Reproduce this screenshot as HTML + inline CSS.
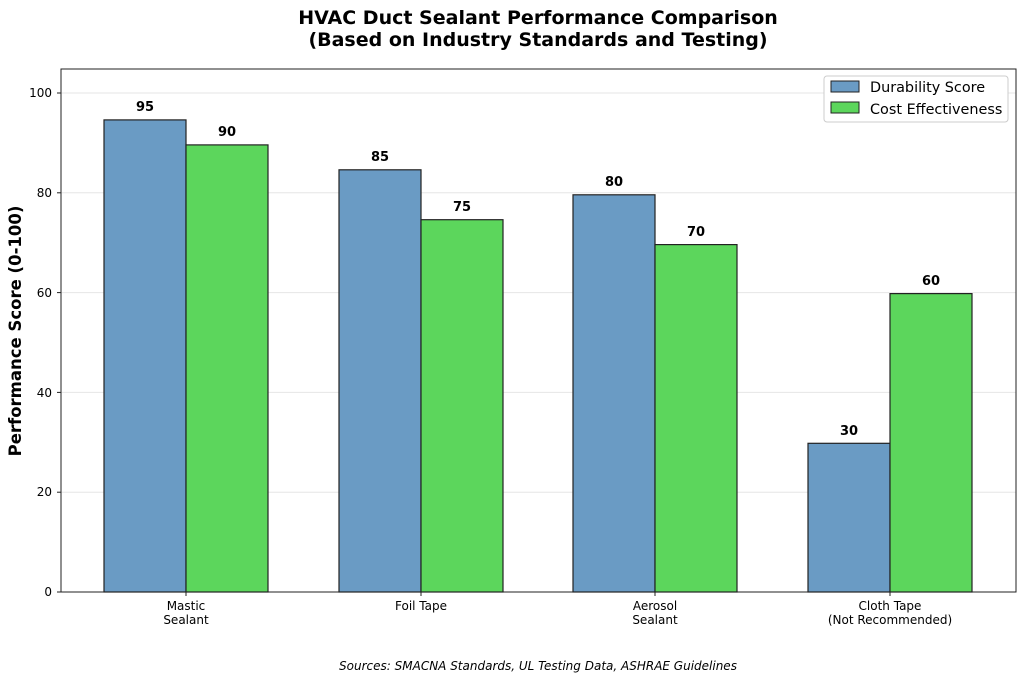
<!DOCTYPE html>
<html><head><meta charset="utf-8"><style>
body{margin:0;background:#fff;}
svg text{font-family:"DejaVu Sans","Liberation Sans",sans-serif;}
</style></head><body>
<svg width="1024" height="682" xmlns="http://www.w3.org/2000/svg">
<text x="538" y="24" text-anchor="middle" font-size="19" font-weight="bold">HVAC Duct Sealant Performance Comparison</text>
<text x="538" y="46" text-anchor="middle" font-size="19" font-weight="bold">(Based on Industry Standards and Testing)</text>
<g stroke="#e6e6e6" stroke-width="1">
<line x1="61" x2="1016" y1="492.2" y2="492.2"/>
<line x1="61" x2="1016" y1="392.4" y2="392.4"/>
<line x1="61" x2="1016" y1="292.6" y2="292.6"/>
<line x1="61" x2="1016" y1="192.8" y2="192.8"/>
<line x1="61" x2="1016" y1="93" y2="93"/>
</g>
<g stroke="#222" stroke-width="1.2">
<rect x="104" y="119.9" width="82" height="472.1" fill="#6a9bc4"/>
<rect x="186" y="144.9" width="82" height="447.1" fill="#5cd65c"/>
<rect x="339" y="169.8" width="82" height="422.2" fill="#6a9bc4"/>
<rect x="421" y="219.7" width="82" height="372.3" fill="#5cd65c"/>
<rect x="573" y="194.8" width="82" height="397.2" fill="#6a9bc4"/>
<rect x="655" y="244.6" width="82" height="347.4" fill="#5cd65c"/>
<rect x="808" y="443.3" width="82" height="148.7" fill="#6a9bc4"/>
<rect x="890" y="293.6" width="82" height="298.4" fill="#5cd65c"/>
</g>
<g font-size="13" font-weight="bold" text-anchor="middle">
<text x="145" y="111">95</text><text x="227" y="136">90</text>
<text x="380" y="161">85</text><text x="462" y="211">75</text>
<text x="614" y="186">80</text><text x="696" y="236">70</text>
<text x="849" y="435">30</text><text x="931" y="285">60</text>
</g>
<rect x="61" y="69" width="955" height="523" fill="none" stroke="#222" stroke-width="1"/>
<g font-size="12" text-anchor="end">
<text x="52" y="596">0</text><text x="52" y="496">20</text><text x="52" y="397">40</text>
<text x="52" y="297">60</text><text x="52" y="197">80</text><text x="52" y="97">100</text>
</g>
<g stroke="#222"><line x1="57" x2="61" y1="592" y2="592"/><line x1="57" x2="61" y1="492.2" y2="492.2"/><line x1="57" x2="61" y1="392.4" y2="392.4"/><line x1="57" x2="61" y1="292.6" y2="292.6"/><line x1="57" x2="61" y1="192.8" y2="192.8"/><line x1="57" x2="61" y1="93" y2="93"/>
<line x1="186" x2="186" y1="592" y2="596"/><line x1="421" x2="421" y1="592" y2="596"/><line x1="655" x2="655" y1="592" y2="596"/><line x1="890" x2="890" y1="592" y2="596"/></g>
<g font-size="12" text-anchor="middle">
<text x="186" y="610">Mastic</text><text x="186" y="624">Sealant</text>
<text x="421" y="610">Foil Tape</text>
<text x="655" y="610">Aerosol</text><text x="655" y="624">Sealant</text>
<text x="890" y="610">Cloth Tape</text><text x="890" y="624">(Not Recommended)</text>
</g>
<text transform="translate(21,331) rotate(-90)" text-anchor="middle" font-size="16.5" font-weight="bold">Performance Score (0-100)</text>
<text x="538" y="670" text-anchor="middle" font-size="12" font-style="italic">Sources: SMACNA Standards, UL Testing Data, ASHRAE Guidelines</text>
<rect x="824" y="76" width="184" height="46" rx="3" fill="#fff" stroke="#ccc"/>
<rect x="831" y="81" width="28" height="11" fill="#6a9bc4" stroke="#222"/>
<rect x="831" y="102" width="28" height="11" fill="#5cd65c" stroke="#222"/>
<text x="870" y="92" font-size="14.4">Durability Score</text>
<text x="870" y="114" font-size="14.4">Cost Effectiveness</text>
</svg>
</body></html>
